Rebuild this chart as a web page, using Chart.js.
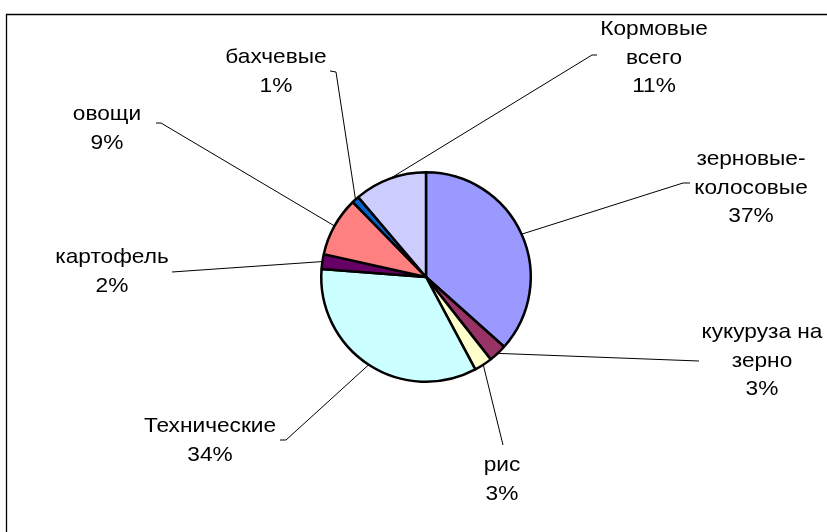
<!DOCTYPE html>
<html>
<head>
<meta charset="utf-8">
<script src="https://cdn.jsdelivr.net/npm/chart.js@4/dist/chart.umd.min.js"></script>
<style>
html,body{margin:0;padding:0;background:#fff;}
#wrap{width:827px;height:532px;position:relative;}
</style>
</head>
<body>
<div id="wrap"><canvas id="c" width="827" height="532"></canvas></div>
<script>
// ---- data ----
const categories = [
  ['зерновые-', 'колосовые'],
  ['кукуруза на', 'зерно'],
  ['рис'],
  ['Технические'],
  ['картофель'],
  ['овощи'],
  ['бахчевые'],
  ['Кормовые', 'всего']
];
const shares = [36.6, 2.8, 2.8, 34.0, 2.3, 9.2, 1.1, 11.2];
const sliceColors = ['#9999FF', '#993366', '#FFFFCC', '#CCFFFF', '#660066', '#FF8080', '#0066CC', '#CCCCFF'];

// ---- label layout (text centre x, first baseline y, leader knee/end) ----
const labelLayout = [
  { x: 751, y: 165, pts: [[683, 183], [690, 183]] },
  { x: 762, y: 338, pts: [[699, 361]] },
  { x: 502, y: 471, pts: [[503, 445]] },
  { x: 210, y: 432, pts: [[286, 440], [280, 440]] },
  { x: 112, y: 263, pts: [[172, 272]] },
  { x: 107, y: 120, pts: [[161, 123], [156, 123]] },
  { x: 276, y: 63, pts: [[336, 72], [330, 71]] },
  { x: 654, y: 35, pts: [[592, 55], [597, 55]] }
];
const FONT = '21px "Liberation Sans", Arial, sans-serif';
const LINE_H = 28.5;

const labelsPlugin = {
  id: 'excelLabels',
  afterDraw(chart) {
    const ctx = chart.ctx;
    const meta = chart.getDatasetMeta(0);
    const vals = chart.data.datasets[0].data;
    const total = vals.reduce((a, b) => a + b, 0);
    ctx.save();
    // frame
    ctx.strokeStyle = '#000';
    ctx.lineWidth = 1.3;
    ctx.beginPath();
    ctx.moveTo(6.5, 540);
    ctx.lineTo(6.5, 14.5);
    ctx.lineTo(840, 14.5);
    ctx.stroke();
    // leaders
    ctx.lineWidth = 1;
    meta.data.forEach((arc, i) => {
      const p = arc.getProps(['x', 'y', 'startAngle', 'endAngle', 'outerRadius'], true);
      const mid = (p.startAngle + p.endAngle) / 2;
      const sx = p.x + Math.cos(mid) * p.outerRadius;
      const sy = p.y + Math.sin(mid) * p.outerRadius;
      ctx.beginPath();
      ctx.moveTo(sx, sy);
      labelLayout[i].pts.forEach(q => ctx.lineTo(q[0], q[1]));
      ctx.stroke();
    });
    // texts
    ctx.fillStyle = '#000';
    ctx.font = FONT;
    ctx.textAlign = 'center';
    ctx.textBaseline = 'alphabetic';
    meta.data.forEach((arc, i) => {
      const lines = chart.data.labels[i].concat([Math.round(vals[i] / total * 100) + '%']);
      const L = labelLayout[i];
      lines.forEach((t, k) => {
        ctx.save();
        ctx.translate(L.x, L.y + k * LINE_H);
        ctx.scale(1.08, 1);
        ctx.fillText(t, 0, 0);
        ctx.restore();
      });
    });
    ctx.restore();
  }
};

new Chart(document.getElementById('c'), {
  type: 'pie',
  data: {
    labels: categories,
    datasets: [{
      data: shares,
      backgroundColor: sliceColors,
      borderColor: '#000',
      borderWidth: 2.5
    }]
  },
  options: {
    responsive: false,
    animation: false,
    layout: { padding: { left: 320, right: 295, top: 171, bottom: 149 } },
    plugins: { legend: { display: false }, tooltip: { enabled: false } }
  },
  plugins: [labelsPlugin]
});
</script>
</body>
</html>
